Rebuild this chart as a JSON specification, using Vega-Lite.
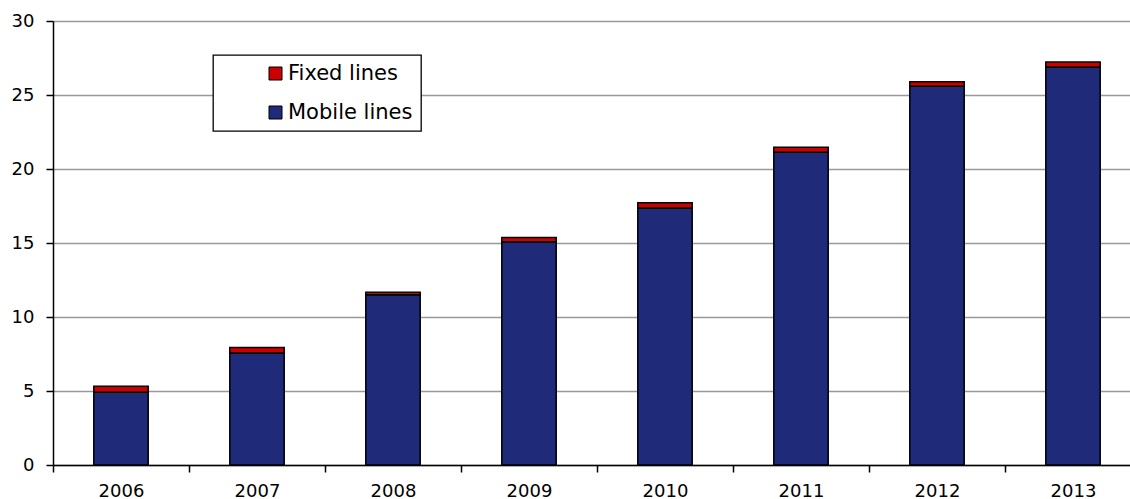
{
  "$schema": "https://vega.github.io/schema/vega-lite/v6.json",
  "autosize": "none",
  "width": 1077,
  "height": 444,
  "padding": {"left": 53, "top": 21, "right": 0, "bottom": 34},
  "background": "white",
  "config": {
    "view": {"stroke": null},
    "font": "DejaVu Sans"
  },
  "data": {
    "values": [
      {"year": "2006", "type": "Mobile lines", "value": 4.92, "ord": 1},
      {"year": "2006", "type": "Fixed lines", "value": 0.40, "ord": 2},
      {"year": "2007", "type": "Mobile lines", "value": 7.57, "ord": 1},
      {"year": "2007", "type": "Fixed lines", "value": 0.37, "ord": 2},
      {"year": "2008", "type": "Mobile lines", "value": 11.50, "ord": 1},
      {"year": "2008", "type": "Fixed lines", "value": 0.18, "ord": 2},
      {"year": "2009", "type": "Mobile lines", "value": 15.08, "ord": 1},
      {"year": "2009", "type": "Fixed lines", "value": 0.30, "ord": 2},
      {"year": "2010", "type": "Mobile lines", "value": 17.36, "ord": 1},
      {"year": "2010", "type": "Fixed lines", "value": 0.36, "ord": 2},
      {"year": "2011", "type": "Mobile lines", "value": 21.13, "ord": 1},
      {"year": "2011", "type": "Fixed lines", "value": 0.34, "ord": 2},
      {"year": "2012", "type": "Mobile lines", "value": 25.59, "ord": 1},
      {"year": "2012", "type": "Fixed lines", "value": 0.31, "ord": 2},
      {"year": "2013", "type": "Mobile lines", "value": 26.89, "ord": 1},
      {"year": "2013", "type": "Fixed lines", "value": 0.34, "ord": 2}
    ]
  },
  "mark": {"type": "bar", "stroke": "black", "strokeWidth": 1.5, "width": {"band": 0.4}},
  "encoding": {
    "x": {
      "field": "year",
      "type": "ordinal",
      "scale": {"range": [0, 1088], "paddingInner": 0, "paddingOuter": 0},
      "axis": {
        "title": null,
        "labelAngle": 0,
        "labelFontSize": 18,
        "labelColor": "black",
        "labelPadding": 10,
        "tickBand": "extent",
        "tickSize": 7,
        "tickColor": "black",
        "tickWidth": 1.5,
        "domainColor": "black",
        "domainWidth": 1.5,
        "grid": false
      }
    },
    "y": {
      "field": "value",
      "type": "quantitative",
      "stack": "zero",
      "scale": {"domain": [0, 30], "nice": false},
      "axis": {
        "title": null,
        "values": [0, 5, 10, 15, 20, 25, 30],
        "labelFontSize": 18,
        "labelColor": "black",
        "labelPadding": 12,
        "tickSize": 7,
        "tickColor": "black",
        "tickWidth": 1.5,
        "domainColor": "black",
        "domainWidth": 1.5,
        "grid": true,
        "gridColor": "#999999",
        "gridWidth": 1.3
      }
    },
    "color": {
      "field": "type",
      "type": "nominal",
      "scale": {"domain": ["Fixed lines", "Mobile lines"], "range": ["#CC0000", "#1F2A78"]},
      "legend": {
        "title": null,
        "orient": "none",
        "legendX": 160,
        "legendY": 34,
        "direction": "vertical",
        "padding": 8,
        "fillColor": "white",
        "strokeColor": "black",
        "symbolType": "square",
        "symbolSize": 169,
        "symbolStrokeColor": "black",
        "symbolStrokeWidth": 1,
        "symbolOffset": 44,
        "labelFontSize": 21,
        "labelColor": "black",
        "labelOffset": 2,
        "rowPadding": 17,
        "encode": {"legend": {"update": {"strokeWidth": {"value": 1.3}}}}
      }
    },
    "order": {"field": "ord", "type": "quantitative"}
  }
}
